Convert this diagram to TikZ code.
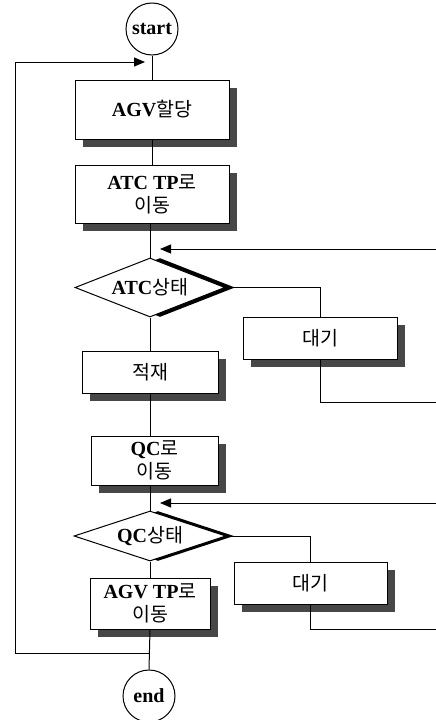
\documentclass[tikz,border=0pt]{standalone}
\usepackage{fontspec}
\setmainfont{Liberation Serif}
\newfontfamily\krfont{Noto Sans CJK KR}
\newcommand{\K}[1]{{\krfont\mdseries\fontsize{19.5}{23}\selectfont #1}}
\usetikzlibrary{shapes.geometric,arrows.meta,shadows}
\begin{document}
\begin{tikzpicture}[x=1pt,y=-1pt,
  every node/.style={font=\fontsize{20}{23}\selectfont\bfseries, align=center},
  ln/.style={line width=1pt},
  arr/.style={ln,-{Triangle[length=11pt,width=9pt]}},
  box/.style={draw, line width=1pt, fill=white, rectangle, inner sep=0pt,
    drop shadow={shadow xshift=8pt, shadow yshift=-8pt, fill=black!72, opacity=1}},
  circ/.style={draw, circle, line width=1pt, minimum size=52pt, inner sep=0pt, fill=white},
  dia/.style={draw, diamond, aspect=2.6, line width=1pt, inner sep=0pt, fill=white}
]
\useasboundingbox (0,0) rectangle (436,720);

\node[circ] (start) at (152,29) {start};
\node[box, minimum width=154pt, minimum height=59pt] (agv) at (152,109.5) {AGV\K{할당}};
\node[box, minimum width=154pt, minimum height=58pt] (atctp) at (152,194) {ATC TP\K{로}\\\K{이동}};
\node[dia, minimum width=150pt, minimum height=59pt,
  drop shadow={shadow xshift=10pt, shadow yshift=0pt, fill=black, opacity=1}] (atc) at (150,287.5) {ATC\K{상태}};
\node[box, minimum width=154pt, minimum height=42pt] (wait1) at (320,338) {\K{대기}};
\node[box, minimum width=136pt, minimum height=42pt] (load) at (150,372) {\K{적재}};
\node[box, minimum width=127pt, minimum height=49pt] (qcmove) at (154.5,460.5) {QC\K{로}\\\K{이동}};
\node[dia, minimum width=152pt, minimum height=50pt,
  drop shadow={shadow xshift=8pt, shadow yshift=0pt, fill=black, opacity=1}] (qc) at (150,536) {QC\K{상태}};
\node[box, minimum width=153pt, minimum height=42pt] (wait2) at (310.5,583) {\K{대기}};
\node[box, minimum width=120pt, minimum height=51pt] (agvtp) at (150,603.5) {AGV TP\K{로}\\\K{이동}};
\node[circ] (end) at (149,696) {end};

\coordinate (r1a) at (436,249);
\coordinate (t1) at (160,249);
\coordinate (r1b) at (436,402);
\coordinate (r2a) at (436,503);
\coordinate (t2) at (160,503);
\coordinate (r2b) at (436,629);
\coordinate (j1) at (150,653);
\coordinate (lb) at (15,653);
\coordinate (lt) at (15,62);
\coordinate (t0) at (145,62);

\draw[ln] (start.south) -- (agv.north);
\draw[ln] (agv.south) -- (atctp.north);
\draw[ln] (atc.north |- atctp.south) -- (atc.north);
\draw[ln] (atc.south) -- (atc.south |- load.north);
\draw[ln] (atc.east) -| (wait1.north);
\draw[ln] (wait1.south) |- (r1b);
\draw[arr] (r1a) -- (t1);
\draw[ln] (load.south) -- (load.south |- qcmove.north);
\draw[ln] (qc.north |- qcmove.south) -- (qc.north);
\draw[arr] (r2a) -- (t2);
\draw[ln] (qc.east) -| (wait2.north);
\draw[ln] (wait2.south) |- (r2b);
\draw[ln] (qc.south) -- (agvtp.north);
\draw[ln] (agvtp.south) -- (end.north);
\draw[arr] (j1) -- (lb) -- (lt) -- (t0);
\end{tikzpicture}
\end{document}
